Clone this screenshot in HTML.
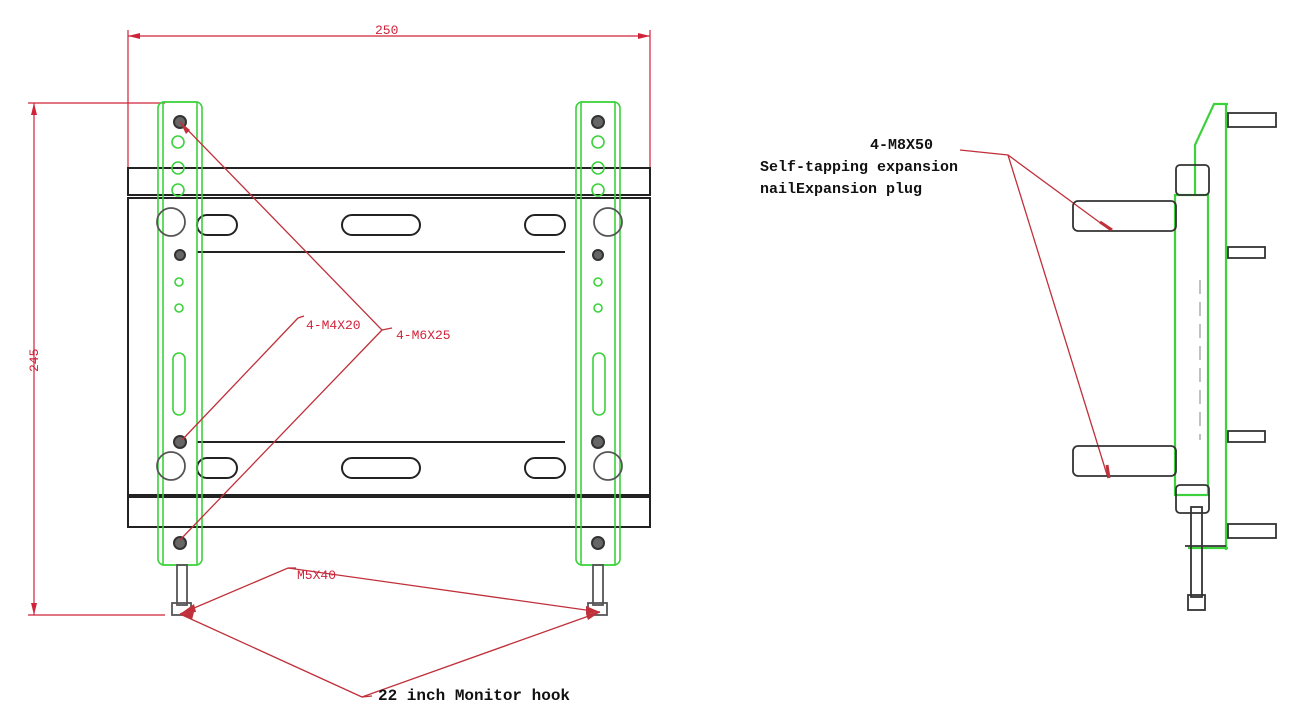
<!DOCTYPE html>
<html><head><meta charset="utf-8"><style>
html,body{margin:0;padding:0;background:#fff;}
svg{display:block;}
text{font-family:"Liberation Mono",monospace;}
</style></head><body>
<svg width="1304" height="722" viewBox="0 0 1304 722" xmlns="http://www.w3.org/2000/svg">
<g stroke="#d0233a" stroke-width="1.2" fill="none">
<line x1="128" y1="36" x2="650" y2="36"/>
<line x1="128" y1="30" x2="128" y2="196"/>
<line x1="650" y1="30" x2="650" y2="196"/>
<line x1="34" y1="103" x2="34" y2="615"/>
<line x1="28" y1="103" x2="165" y2="103"/>
<line x1="28" y1="615" x2="165" y2="615"/>
</g>
<g fill="#d0233a">
<polygon points="128,36 140,33 140,39"/><polygon points="650,36 638,33 638,39"/>
<polygon points="34,103 31,115 37,115"/><polygon points="34,615 31,603 37,603"/>
</g>
<text x="375" y="34" fill="#d0233a" font-size="13">250</text>
<text x="38" y="372" fill="#d0233a" font-size="13" transform="rotate(-90 38 372)">245</text>

<g stroke="#222" stroke-width="2" fill="none">
<rect x="128" y="168" width="522" height="27"/>
<rect x="128" y="198" width="522" height="297"/>
<rect x="128" y="497" width="522" height="30"/>
<line x1="197" y1="252" x2="565" y2="252"/>
<line x1="197" y1="442" x2="565" y2="442"/>
<rect x="342" y="215" width="78" height="20" rx="10"/>
<rect x="197" y="215" width="40" height="20" rx="10"/>
<rect x="525" y="215" width="40" height="20" rx="10"/>
<rect x="342" y="458" width="78" height="20" rx="10"/>
<rect x="197" y="458" width="40" height="20" rx="10"/>
<rect x="525" y="458" width="40" height="20" rx="10"/>
</g>
<g stroke="#3cd23c" stroke-width="1.6" fill="none">
<rect x="158" y="102" width="44" height="463" rx="6"/>
<rect x="163" y="102" width="34" height="463"/>
<rect x="576" y="102" width="44" height="463" rx="6"/>
<rect x="581" y="102" width="34" height="463"/>
<circle cx="178" cy="142" r="6"/><circle cx="178" cy="168" r="6"/><circle cx="178" cy="190" r="6"/>
<circle cx="598" cy="142" r="6"/><circle cx="598" cy="168" r="6"/><circle cx="598" cy="190" r="6"/>
<circle cx="179" cy="282" r="4"/><circle cx="179" cy="308" r="4"/>
<circle cx="598" cy="282" r="4"/><circle cx="598" cy="308" r="4"/>
<rect x="173" y="353" width="12" height="62" rx="6"/>
<rect x="593" y="353" width="12" height="62" rx="6"/>
</g>
<g stroke="#333" stroke-width="2" fill="#666">
<circle cx="180" cy="122" r="6"/><circle cx="598" cy="122" r="6"/>
<circle cx="180" cy="255" r="5"/><circle cx="598" cy="255" r="5"/>
<circle cx="180" cy="442" r="6"/><circle cx="598" cy="442" r="6"/>
<circle cx="180" cy="543" r="6"/><circle cx="598" cy="543" r="6"/>
</g>
<g stroke="#555" stroke-width="1.8" fill="none">
<circle cx="171" cy="222" r="14"/><circle cx="608" cy="222" r="14"/>
<circle cx="171" cy="466" r="14"/><circle cx="608" cy="466" r="14"/>
<rect x="177" y="565" width="10" height="40"/><rect x="172" y="603" width="19" height="12"/>
<rect x="593" y="565" width="10" height="40"/><rect x="588" y="603" width="19" height="12"/>
</g>
<g stroke="#c0303a" stroke-width="1.3" fill="none">
<polyline points="180,122 382,330 180,540"/>
<polyline points="298,318 182,440"/>
<line x1="298" y1="318" x2="304" y2="316"/>
<line x1="382" y1="330" x2="392" y2="328"/>
<polyline points="180,614 288,568 600,612"/>
<polyline points="180,614 362,697 600,612"/>
<line x1="288" y1="568" x2="296" y2="568"/>
<line x1="362" y1="697" x2="372" y2="696"/>
<polyline points="960,150 1008,155 1110,230"/>
<line x1="1008" y1="155" x2="1108" y2="478"/>
</g>
<g fill="#c0303a">
<polygon points="180,614 194,604 196,612"/>
<polygon points="180,614 194,612 192,620"/>
<polygon points="600,612 586,606 586,614"/>
<polygon points="600,612 586,614 588,620"/>
<polygon points="180,122 186,134 190,130"/>
</g>
<text x="306" y="329" fill="#d0233a" font-size="13">4-M4X20</text>
<text x="396" y="339" fill="#d0233a" font-size="13">4-M6X25</text>
<text x="297" y="579" fill="#d0233a" font-size="13">M5X40</text>
<text x="378" y="700" fill="#111" font-size="16" font-weight="bold">22 inch Monitor hook</text>
<text x="870" y="149" fill="#111" font-size="15" font-weight="bold">4-M8X50</text>
<text x="760" y="171" fill="#111" font-size="15" font-weight="bold">Self-tapping expansion</text>
<text x="760" y="193" fill="#111" font-size="15" font-weight="bold">nailExpansion plug</text>

<g stroke="#3cd23c" stroke-width="2.2" fill="none">
<polyline points="1228,104 1214,104 1195,145 1195,195"/>
<line x1="1226" y1="104" x2="1226" y2="550"/>
<rect x="1175" y="195" width="33" height="300"/>
<line x1="1188" y1="548" x2="1228" y2="548"/>
</g>
<g stroke="#333" stroke-width="1.8" fill="none">
<rect x="1073" y="201" width="103" height="30" rx="5"/>
<rect x="1073" y="446" width="103" height="30" rx="5"/>
<rect x="1176" y="165" width="33" height="30" rx="4"/>
<rect x="1176" y="485" width="33" height="28" rx="4"/>
<rect x="1228" y="113" width="48" height="14"/>
<rect x="1228" y="524" width="48" height="14"/>
<rect x="1228" y="247" width="37" height="11"/>
<rect x="1228" y="431" width="37" height="11"/>
<rect x="1191" y="507" width="11" height="90"/>
<rect x="1188" y="595" width="17" height="15"/>
<line x1="1185" y1="546" x2="1226" y2="546"/>
</g>
<g stroke="#999" stroke-width="1.2" fill="none" stroke-dasharray="14,8">
<line x1="1200" y1="280" x2="1200" y2="440"/>
</g>
<g stroke="#c0303a" stroke-width="3"><line x1="1100" y1="222" x2="1112" y2="230"/><line x1="1107" y1="465" x2="1109" y2="478"/></g>
</svg>
</body></html>
